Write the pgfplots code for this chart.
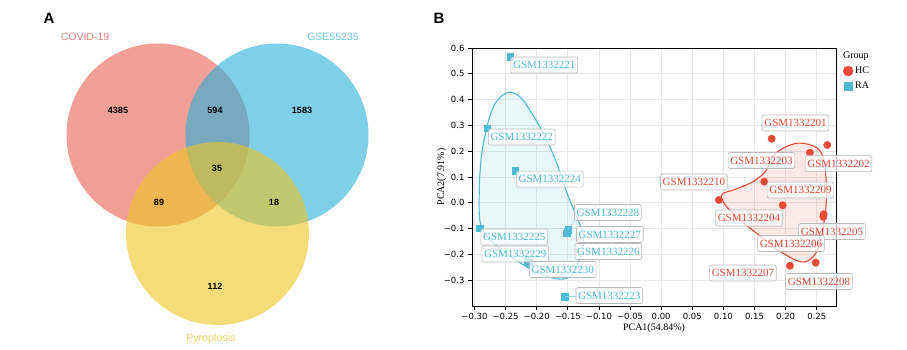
\documentclass[border=0pt]{standalone}
\usepackage{pgfplots}
\pgfplotsset{compat=1.18}
\usepackage{fontspec}
\setmainfont{Liberation Serif}
\newfontfamily\arial{Liberation Sans}
\newfontfamily\dejavu{DejaVu Sans}
\definecolor{npgred}{RGB}{230,75,53}
\definecolor{npgblue}{RGB}{77,187,213}
\definecolor{vred}{RGB}{230,97,80}
\definecolor{vblue}{RGB}{40,175,217}
\definecolor{vyellow}{RGB}{238,197,33}
\definecolor{tred}{RGB}{236,130,120}
\definecolor{tblue}{RGB}{105,198,228}
\definecolor{tyellow}{RGB}{240,210,100}
\begin{document}
\begin{tikzpicture}[x=1pt,y=1pt,
  lbl/.style={draw=gray!55, line width=0.6pt, rounded corners=2pt, fill=white, fill opacity=0.75, text opacity=1, draw opacity=1,
    font=\fontsize{11}{12}\selectfont, inner xsep=2.2pt, inner ysep=0pt, minimum height=16pt, text height=7.6pt, text depth=0pt},
  cnt/.style={font=\arial\bfseries\fontsize{9}{10}\selectfont, text=black, text opacity=1, fill opacity=1}]
\useasboundingbox (0,0) rectangle (907,349);
% ---------------- Panel A: Venn ----------------
\begin{axis}[at={(0pt,0pt)}, anchor=south west, scale only axis, width=420pt, height=349pt,
  xmin=0, xmax=420, ymin=0, ymax=349, hide axis, clip=false]
\addplot[vred, only marks, mark=*, mark size=91.5pt, mark options={fill=vred, fill opacity=0.6, draw opacity=0}] coordinates {(158,214)};
\addplot[vblue, only marks, mark=*, mark size=91.5pt, mark options={fill=vblue, fill opacity=0.6, draw opacity=0}] coordinates {(277,214)};
\addplot[vyellow, only marks, mark=*, mark size=91.5pt, mark options={fill=vyellow, fill opacity=0.6, draw opacity=0}] coordinates {(217.5,115.5)};
\coordinate (c1) at (axis cs:118,239);
\coordinate (c2) at (axis cs:215,239);
\coordinate (c3) at (axis cs:302,239);
\coordinate (c4) at (axis cs:217,181);
\coordinate (c5) at (axis cs:159,147);
\coordinate (c6) at (axis cs:274,147);
\coordinate (c7) at (axis cs:215,63);
\end{axis}
\node[cnt] at (c1) {4385};
\node[cnt] at (c2) {594};
\node[cnt] at (c3) {1583};
\node[cnt] at (c4) {35};
\node[cnt] at (c5) {89};
\node[cnt] at (c6) {18};
\node[cnt] at (c7) {112};
\node[font=\arial\fontsize{10.5}{12}\selectfont, text=tred] at (85,312) {COVID-19};
\node[font=\arial\fontsize{10.5}{12}\selectfont, text=tblue] at (333,312) {GSE55235};
\node[font=\arial\fontsize{10.5}{12}\selectfont, text=tyellow] at (211,10) {Pyroptosis};
% ---------------- Panel B: PCA ----------------
\begin{axis}[at={(472pt,43pt)}, anchor=south west, scale only axis, width=364pt, height=258pt,
  xmin=-0.304, xmax=0.281, ymin=-0.4, ymax=0.6, clip=false,
  xtick={-0.30,-0.25,-0.20,-0.15,-0.10,-0.05,0,0.05,0.10,0.15,0.20,0.25},
  xticklabels={−0.30,−0.25,−0.20,−0.15,−0.10,−0.05,0.00,0.05,0.10,0.15,0.20,0.25},
  ytick={-0.3,-0.2,-0.1,0,0.1,0.2,0.3,0.4,0.5,0.6},
  yticklabels={−0.3,−0.2,−0.1,0.0,0.1,0.2,0.3,0.4,0.5,0.6},
  tick label style={font=\dejavu\fontsize{8.5}{10}\selectfont},
  xtick pos=bottom, ytick pos=left, tick align=outside, major tick length=4pt,
  tick style={black, line width=0.8pt},
  axis line style={black, line width=1pt},
  grid=major, major grid style={gray!18, line width=0.8pt},
  xlabel={PCA1(54.84\%)}, ylabel={PCA2(7.91\%)},
  label style={font=\fontsize{10}{12}\selectfont},
  xlabel style={at={(axis description cs:0.5,-0.087)}, anchor=center},
  ylabel style={at={(axis description cs:-0.083,0.5)}, anchor=center},
  legend style={at={(rel axis cs:1.0192,0.935)}, anchor=north west, draw=none, fill=none, inner sep=0pt,
     font=\fontsize{10}{12}\selectfont, row sep=3pt, nodes={inner xsep=2pt}},
  legend cell align=left,
  legend image code/.code={\draw[#1] plot coordinates {(5pt,0pt)};}]
% hulls
\addplot[npgblue, line width=1.1pt, fill=npgblue, fill opacity=0.12, draw opacity=1, smooth, tension=0.6, forget plot] coordinates {
(-0.2927,-0.0019)(-0.2916,0.1012)(-0.2889,0.1787)(-0.2836,0.2562)(-0.2755,0.3337)(-0.2648,0.3919)(-0.2461,0.4283)
(-0.2273,0.4113)(-0.2112,0.3597)(-0.1951,0.2950)(-0.1790,0.2175)(-0.1657,0.1399)(-0.1549,0.0624)
(-0.1469,0.0109)(-0.1335,-0.0667)(-0.1255,-0.1183)(-0.1255,-0.1701)(-0.1335,-0.2345)(-0.1469,-0.2864)(-0.1657,-0.2953)
(-0.1898,-0.2798)(-0.2165,-0.2477)(-0.2487,-0.1957)(-0.2755,-0.1442)(-0.2863,-0.1054)(-0.2916,-0.0667)(-0.2927,-0.0019)};
\addplot[npgred, line width=1.1pt, fill=npgred, fill opacity=0.12, draw opacity=1, smooth, tension=0.6, forget plot] coordinates {
(0.2660,0.0496)(0.2649,-0.0151)(0.2622,-0.0667)
(0.2580,-0.1314)(0.2500,-0.1895)(0.2365,-0.2244)(0.2231,-0.2283)(0.2070,-0.2112)(0.1802,-0.1701)(0.1534,-0.1182)
(0.1266,-0.0667)(0.1052,-0.0151)(0.0972,0.0174)(0.0997,0.0368)(0.1158,0.0496)(0.1427,0.0756)(0.1588,0.1012)
(0.1695,0.1271)(0.1776,0.1725)(0.1909,0.2047)(0.2123,0.2279)(0.2284,0.2306)(0.2445,0.2202)(0.2553,0.2019)
(0.2617,0.1659)(0.2644,0.1143)(0.2660,0.0496)};
% points
\addplot[npgblue, only marks, mark=square*, mark size=3.2pt, mark options={fill=npgblue, fill opacity=1, draw opacity=1}, forget plot] coordinates {
(-0.2422,0.566)(-0.2799,0.289)(-0.2342,0.124)(-0.2916,-0.099)(-0.1496,-0.105)(-0.1520,-0.118)(-0.1510,-0.112)
(-0.2150,-0.225)(-0.2120,-0.232)(-0.1550,-0.364)};
\addplot[npgred, only marks, mark=*, mark size=3.7pt, mark options={fill=npgred, fill opacity=1, draw opacity=1}, forget plot] coordinates {
(0.1776,0.2485)(0.2670,0.224)(0.2390,0.194)(0.1657,0.082)(0.0928,0.011)(0.1953,-0.0097)(0.2612,-0.0446)
(0.2606,-0.054)(0.2070,-0.2438)(0.2484,-0.232)};
% legend
\addlegendimage{npgred, only marks, mark=*, mark size=5pt, mark options={fill=npgred}}
\addlegendentry{HC}
\addlegendimage{npgblue, only marks, mark=square*, mark size=4pt, mark options={fill=npgblue}}
\addlegendentry{RA}
\node[anchor=north west, inner sep=0pt, font=\fontsize{10}{12}\selectfont] at (rel axis cs:1.0192,0.9845) {Group};
% label anchor coordinates
\coordinate (b21) at (axis cs:-0.1879,0.534);
\coordinate (b22) at (axis cs:-0.2241,0.255);
\coordinate (b24) at (axis cs:-0.1790,0.092);
\coordinate (b28) at (axis cs:-0.0857,-0.0376);
\coordinate (b27) at (axis cs:-0.0825,-0.1229);
\coordinate (b26) at (axis cs:-0.0849,-0.1888);
\coordinate (b25) at (axis cs:-0.2361,-0.1326);
\coordinate (b29) at (axis cs:-0.2345,-0.1984);
\coordinate (b30) at (axis cs:-0.1581,-0.2585);
\coordinate (b23) at (axis cs:-0.0833,-0.3593);
\coordinate (r01) at (axis cs:0.2159,0.3093);
\coordinate (r03) at (axis cs:0.1612,0.1640);
\coordinate (r02) at (axis cs:0.2850,0.1516);
\coordinate (r10) at (axis cs:0.0526,0.0806);
\coordinate (r09) at (axis cs:0.2239,0.0496);
\coordinate (r04) at (axis cs:0.1411,-0.0589);
\coordinate (r05) at (axis cs:0.2746,-0.1112);
\coordinate (r06) at (axis cs:0.2086,-0.1578);
\coordinate (r07) at (axis cs:0.1314,-0.2721);
\coordinate (r08) at (axis cs:0.2537,-0.3050);
\coordinate (s23a) at (axis cs:-0.1550,-0.364);
\coordinate (s23b) at (axis cs:-0.137,-0.364);
\coordinate (s28a) at (axis cs:-0.1496,-0.105);
\coordinate (s28b) at (axis cs:-0.138,-0.06);
\end{axis}
% connectors
\draw[npgblue!60, line width=0.5pt] (s23a) -- (s23b);
\draw[npgblue!60, line width=0.5pt] (s28a) -- (s28b);
% labels
\node[lbl, text=npgblue] at (b21) {GSM1332221};
\node[lbl, text=npgblue] at (b22) {GSM1332222};
\node[lbl, text=npgblue] at (b24) {GSM1332224};
\node[lbl, text=npgblue] at (b28) {GSM1332228};
\node[lbl, text=npgblue] at (b27) {GSM1332227};
\node[lbl, text=npgblue] at (b26) {GSM1332226};
\node[lbl, text=npgblue] at (b25) {GSM1332225};
\node[lbl, text=npgblue] at (b29) {GSM1332229};
\node[lbl, text=npgblue] at (b30) {GSM1332230};
\node[lbl, text=npgblue] at (b23) {GSM1332223};
\node[lbl, text=npgred] at (r01) {GSM1332201};
\node[lbl, text=npgred] at (r03) {GSM1332203};
\node[lbl, text=npgred] at (r02) {GSM1332202};
\node[lbl, text=npgred] at (r10) {GSM1332210};
\node[lbl, text=npgred] at (r09) {GSM1332209};
\node[lbl, text=npgred] at (r04) {GSM1332204};
\node[lbl, text=npgred] at (r05) {GSM1332205};
\node[lbl, text=npgred] at (r06) {GSM1332206};
\node[lbl, text=npgred] at (r07) {GSM1332207};
\node[lbl, text=npgred] at (r08) {GSM1332208};
\node[font=\arial\bfseries\fontsize{15}{18}\selectfont] at (49,331) {A};
\node[font=\arial\bfseries\fontsize{15}{18}\selectfont] at (439,331) {B};
\end{tikzpicture}
\end{document}
